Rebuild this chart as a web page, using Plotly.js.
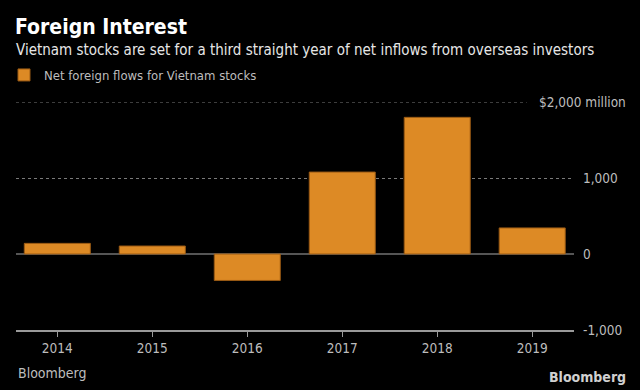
<!DOCTYPE html>
<html>
<head>
<meta charset="utf-8">
<script src="https://cdn.plot.ly/plotly-3.0.1.min.js"></script>
<style>html,body{margin:0;padding:0;background:#000;}#chart{width:640px;height:390px;}</style>
</head>
<body>
<div id="chart"></div>
<script>
const years = ['2014', '2015', '2016', '2017', '2018', '2019'];
const netFlows = [140, 105, -348, 1078, 1798, 343];
const seriesName = 'Net foreign flows for Vietnam stocks';
const yTickVals = [-1000, 0, 1000];
const yTickText = ['-1,000', '0', '1,000'];
const topTickVal = 2000;
const topTickText = '$2,000 million';

const FONT = '"Liberation Sans Narrow", "DejaVu Sans Condensed", Roboto, sans-serif';

const trace = {
  type: 'bar',
  x: years,
  y: netFlows,
  name: seriesName,
  width: 0.695,
  marker: {color: '#DD8A25', line: {color: '#9A5A14', width: 1}},
  hoverinfo: 'skip'
};

const layout = {
  width: 640, height: 390,
  paper_bgcolor: '#000', plot_bgcolor: '#000',
  margin: {l: 16, r: 66, t: 102, b: 60, pad: 0},
  font: {family: FONT, color: '#BDBDBD', size: 13},
  title: {
    text: '<b>Foreign Interest</b>',
    font: {family: FONT, size: 21, color: '#FFFFFF'},
    xref: 'container', yref: 'container',
    x: 15 / 640, xanchor: 'left',
    y: 1 - 27 / 390, yanchor: 'middle'
  },
  showlegend: true,
  legend: {
    xref: 'container', yref: 'container',
    x: 4 / 640, xanchor: 'left',
    y: 1 - 75 / 390, yanchor: 'middle',
    orientation: 'h',
    font: {family: FONT, size: 13, color: '#BDBDBD'},
    bgcolor: 'rgba(0,0,0,0)'
  },
  xaxis: {
    type: 'category',
    range: [-0.435, 5.44],
    showgrid: false,
    showline: true, linecolor: '#9A9A9A', linewidth: 2,
    ticks: 'outside', ticklen: 5, tickcolor: '#9A9A9A', tickwidth: 1,
    tickfont: {family: FONT, size: 13.5, color: '#BDBDBD'},
    zeroline: false, fixedrange: true
  },
  yaxis: {
    side: 'right',
    range: [-1000, 2000],
    tickvals: yTickVals, ticktext: yTickText,
    showgrid: true, gridcolor: '#7A7A7A', griddash: 'dot', gridwidth: 1,
    zeroline: true, zerolinecolor: '#555555', zerolinewidth: 2,
    showline: false, ticks: '',
    ticklabelstandoff: 8,
    tickfont: {family: FONT, size: 13.5, color: '#BDBDBD'},
    fixedrange: true
  },
  shapes: [{
    type: 'line', xref: 'paper', yref: 'y',
    x0: 0, x1: (526.7 - 16) / 558, y0: topTickVal, y1: topTickVal,
    line: {color: '#7A7A7A', width: 1, dash: 'dot'}
  }],
  annotations: [
    {
      text: topTickText, xref: 'paper', yref: 'y',
      x: (536.7 - 16) / 558, xanchor: 'left', y: topTickVal, yanchor: 'middle',
      showarrow: false, font: {family: FONT, size: 13.5, color: '#BDBDBD'}
    },
    {
      text: 'Vietnam stocks are set for a third straight year of net inflows from overseas investors',
      xref: 'paper', yref: 'paper',
      x: (14 - 16) / 558, xanchor: 'left', y: (330 - 50) / 227.7, yanchor: 'middle',
      showarrow: false, font: {family: FONT, size: 15, color: '#E6E6E6'}
    },
    {
      text: 'Bloomberg', xref: 'paper', yref: 'paper',
      x: 0, xanchor: 'left', y: (330 - 373) / 227.7, yanchor: 'middle',
      showarrow: false, font: {family: FONT, size: 14, color: '#BDBDBD'}
    },
    {
      text: '<b>Bloomberg</b>', xref: 'paper', yref: 'paper',
      x: (628 - 16) / 558, xanchor: 'right', y: (330 - 377) / 227.7, yanchor: 'middle',
      showarrow: false, font: {family: FONT, size: 14, color: '#D0D0D0'}
    }
  ]
};

Plotly.newPlot('chart', [trace], layout, {displayModeBar: false, staticPlot: true});
</script>
</body>
</html>
